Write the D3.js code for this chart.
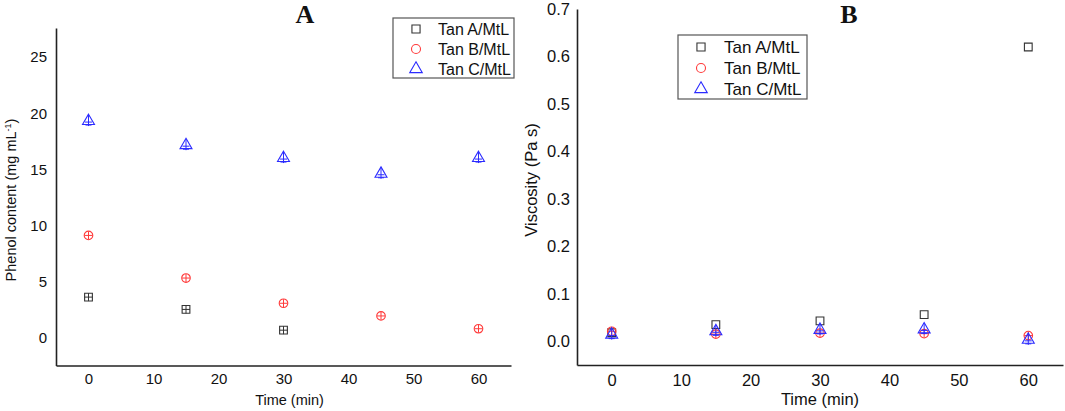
<!DOCTYPE html>
<html>
<head>
<meta charset="utf-8">
<script src="https://cdn.jsdelivr.net/npm/d3@7"></script>
<style>
  body { margin: 0; background: #fff; }
  svg text { font-family: "Liberation Sans", Arial, sans-serif; fill: #111; }
</style>
</head>
<body>
<svg id="chart" width="1065" height="411"></svg>
<script>
// time points (min)
const times = [0, 15, 30, 45, 60];
const seriesNames = ['Tan A/MtL', 'Tan B/MtL', 'Tan C/MtL'];

// panel A: phenol content (mg mL-1)
const phenolA = [3.6, 2.5, 0.65, null, null];
const phenolB = [9.1, 5.3, 3.05, 1.92, 0.78];
const phenolC = [19.3, 17.15, 16.0, 14.6, 16.0];

// panel B: viscosity (Pa s)
const viscA = [0.018, 0.035, 0.043, 0.056, 0.62];
const viscB = [0.021, 0.015, 0.017, 0.016, 0.012];
const viscC = [0.014, 0.021, 0.024, 0.025, 0.003];

const xTicks = [0, 10, 20, 30, 40, 50, 60];
const yTicksA = [0, 5, 10, 15, 20, 25];
const yTicksB = [0, 0.1, 0.2, 0.3, 0.4, 0.5, 0.6, 0.7];

const colors = ['#333333', '#ff3b3b', '#2b2bff'];
const shapes = [d3.symbolSquare, d3.symbolCircle, d3.symbolTriangle];
const symSize = [60, 58, 62];

const svg = d3.select('#chart');

function panel(cfg) {
  const x = d3.scaleLinear().domain([-5, 65]).range(cfg.xr);
  const y = d3.scaleLinear().domain(cfg.yd).range(cfg.yr);
  const g = svg.append('g');

  // axes: plain lines, no tick marks
  const xAxis = g.append('g')
    .attr('transform', `translate(0,${cfg.yr[0]})`)
    .call(d3.axisBottom(x).tickValues(xTicks).tickSize(0).tickPadding(cfg.pad));
  const yAxis = g.append('g')
    .attr('transform', `translate(${cfg.xr[0]},0)`)
    .call(d3.axisLeft(y).tickValues(cfg.yTicks).tickSize(0).tickPadding(cfg.ypad)
      .tickFormat(cfg.fmt));
  [xAxis, yAxis].forEach(a => {
    a.select('.domain').attr('stroke', '#222').attr('stroke-width', 1.6);
    a.selectAll('text').style('font-size', cfg.font + 'px').attr('fill', '#111');
  });

  // markers
  cfg.series.forEach((vals, i) => {
    const pts = times.map((t, j) => ({ t, v: vals[j] })).filter(d => d.v != null);
    const m = g.selectAll(null).data(pts).enter().append('g')
      .attr('transform', d => `translate(${x(d.t)},${y(d.v)})`);
    m.append('path')
      .attr('d', d3.symbol().type(shapes[i]).size(symSize[i]))
      .attr('fill', 'none').attr('stroke', colors[i]).attr('stroke-width', 1.1);
    if (cfg.cross[i]) {
      m.append('path')
        .attr('d', i === 2 ? 'M0,-6V5M-3.5,1H3.5M-3,4H3' : 'M0,-4V4M-4,0H4')
        .attr('fill', 'none').attr('stroke', colors[i]).attr('stroke-width', 1);
    }
  });

  // title
  svg.append('text').attr('x', cfg.title[1]).attr('y', 23)
    .attr('text-anchor', 'middle')
    .style('font-family', '"Liberation Serif", "Times New Roman", serif')
    .style('font-weight', 'bold').style('font-size', '26px')
    .text(cfg.title[0]);

  // axis labels
  svg.append('text').attr('x', (cfg.xr[0] + cfg.xr[1]) / 2 + cfg.xlOff).attr('y', 405)
    .attr('text-anchor', 'middle').style('font-size', cfg.labFont + 'px')
    .text('Time (min)');
  const yl = svg.append('text')
    .attr('transform', `translate(${cfg.ylX},${cfg.ylY}) rotate(-90)`)
    .attr('text-anchor', 'middle').style('font-size', cfg.labFont + 'px');
  cfg.yLabel(yl);

  // legend
  const L = cfg.legend;
  svg.append('rect').attr('x', L.x).attr('y', L.y).attr('width', L.w).attr('height', L.h)
    .attr('fill', '#fff').attr('stroke', '#555').attr('stroke-width', 1.2);
  seriesNames.forEach((name, i) => {
    const cy = L.y + L.first + i * L.step;
    svg.append('path')
      .attr('transform', `translate(${L.x + L.mx},${cy})`)
      .attr('d', d3.symbol().type(shapes[i]).size(symSize[i] * 1.1))
      .attr('fill', 'none').attr('stroke', colors[i]).attr('stroke-width', 1.1);
    svg.append('text').attr('x', L.x + L.tx).attr('y', cy)
      .attr('dy', '0.36em').style('font-size', L.font + 'px').text(name);
  });
}

panel({
  xr: [56, 511], yd: [-2.5, 27.6], yr: [365.5, 28],
  yTicks: yTicksA, fmt: d3.format('d'), font: 15, pad: 8, ypad: 9,
  series: [phenolA, phenolB, phenolC], cross: [true, true, true],
  title: ['A', 305], labFont: 14.5, xlOff: 6,
  ylX: 16, ylY: 200,
  yLabel: t => {
    t.append('tspan').text('Phenol content (mg mL');
    t.append('tspan').attr('dy', -5).style('font-size', '9px').text('-1');
    t.append('tspan').attr('dy', 5).text(')');
  },
  legend: { x: 393, y: 18, w: 121, h: 60, first: 11, step: 20, mx: 23, tx: 45, font: 16 }
});

panel({
  xr: [577, 1063], yd: [-0.05, 0.7], yr: [365, 9],
  yTicks: yTicksB, fmt: d3.format('.1f'), font: 16.5, pad: 9, ypad: 7,
  series: [viscA, viscB, viscC], cross: [false, true, true],
  title: ['B', 849], labFont: 16.5, xlOff: 0,
  ylX: 537, ylY: 180,
  yLabel: t => t.text('Viscosity (Pa s)'),
  legend: { x: 678, y: 35, w: 129, h: 64, first: 12, step: 21, mx: 23, tx: 46, font: 17 }
});
</script>
</body>
</html>
